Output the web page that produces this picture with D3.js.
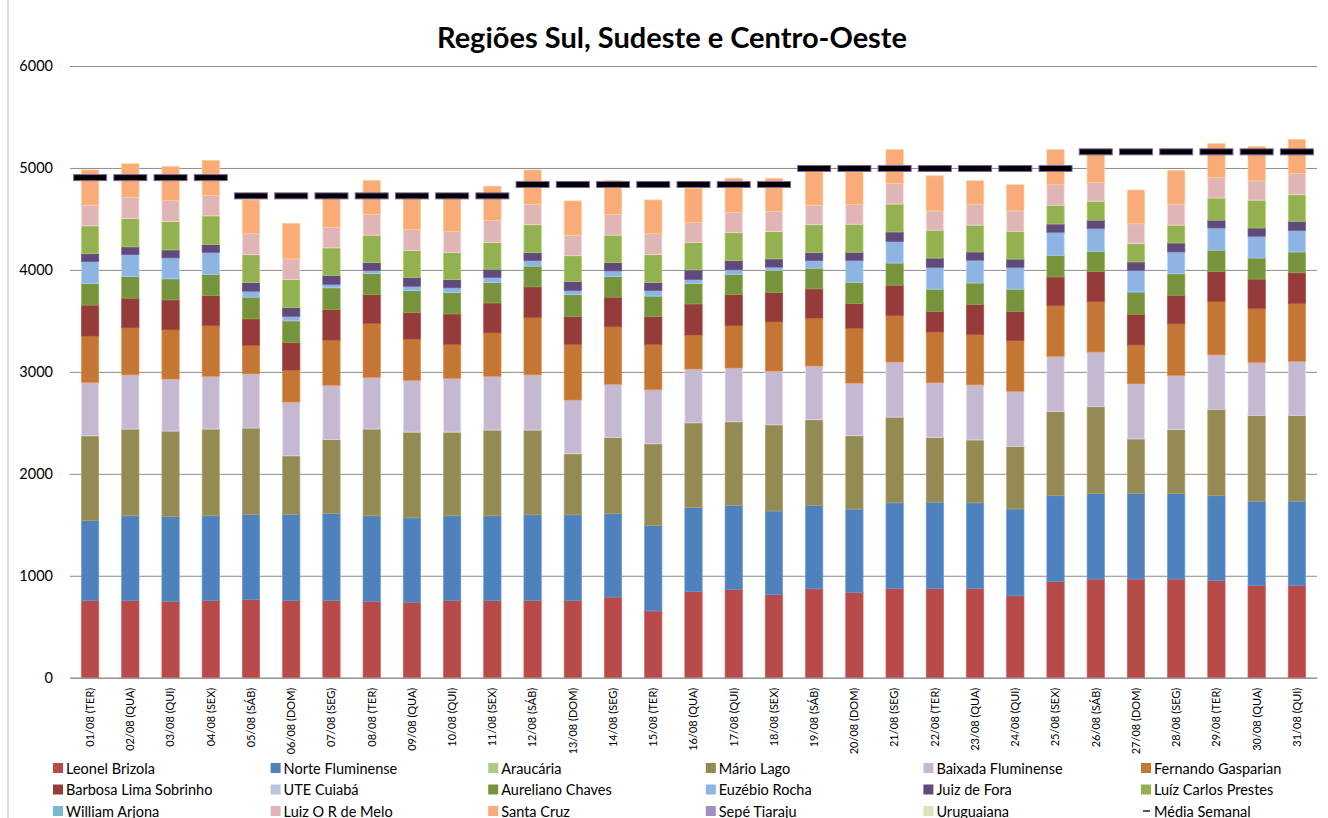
<!DOCTYPE html>
<html>
<head>
<meta charset="utf-8">
<script src="https://cdn.jsdelivr.net/npm/d3@7"></script>
<style>
  body { margin: 0; background: #fff; }
  svg { display: block; font-family: Lato, "Open Sans", sans-serif; }
</style>
</head>
<body>
<script>
const width = 1328, height = 818;

// categorias (dias de agosto)
const days = ["01/08 (TER)", "02/08 (QUA)", "03/08 (QUI)", "04/08 (SEX)", "05/08 (SÁB)", "06/08 (DOM)",
  "07/08 (SEG)", "08/08 (TER)", "09/08 (QUA)", "10/08 (QUI)", "11/08 (SEX)", "12/08 (SÁB)", "13/08 (DOM)",
  "14/08 (SEG)", "15/08 (TER)", "16/08 (QUA)", "17/08 (QUI)", "18/08 (SEX)", "19/08 (SÁB)", "20/08 (DOM)",
  "21/08 (SEG)", "22/08 (TER)", "23/08 (QUA)", "24/08 (QUI)", "25/08 (SEX)", "26/08 (SÁB)", "27/08 (DOM)",
  "28/08 (SEG)", "29/08 (TER)", "30/08 (QUA)", "31/08 (QUI)"];

// geração por usina (MW médio)
const leonelBrizola = [757,757,750,757,767,757,757,750,740,757,757,757,757,791,655,845,865,814,872,836,873,873,873,803,943,968,968,968,954,905,905];
const norteFluminense = [784,831,831,831,834,844,854,838,828,831,831,841,841,817,838,824,824,821,817,818,842,849,842,852,842,838,838,838,831,827,827];
const marioLago = [831,851,838,851,848,575,727,851,841,821,841,831,598,750,801,831,821,845,841,719,841,634,617,614,827,852,536,627,848,842,842];
const baixadaFluminense = [523,531,510,517,531,527,530,507,507,527,527,541,527,520,530,527,527,527,527,516,540,537,540,540,540,536,540,530,533,519,529];
const fernandoGasparian = [456,462,483,497,280,314,443,530,405,334,426,564,547,565,446,334,416,483,470,539,456,498,494,497,498,495,382,508,523,529,568];
const barbosaLima = [304,291,294,294,260,270,300,281,260,298,294,300,271,290,271,305,304,287,287,241,298,203,295,288,281,294,302,281,294,288,301];
const aurelianoChaves = [210,213,206,209,213,213,213,209,216,209,199,203,216,203,202,199,199,220,203,209,217,217,210,217,213,200,217,210,211,207,204];
const euzebioRocha = [216,213,206,216,58,44,34,27,41,47,51,54,40,54,54,40,44,30,74,215,211,214,224,214,225,224,211,214,217,213,210];
const juizDeFora = [78,77,78,78,84,88,88,78,88,81,81,78,88,81,78,95,91,81,78,80,94,91,81,81,81,81,84,88,77,81,91];
const luizCarlosPrestes = [273,277,277,280,274,273,270,270,263,264,263,274,254,270,274,270,274,267,274,275,274,274,263,273,185,186,179,175,217,273,260];
const luizORMelo = [203,210,206,200,206,203,203,203,206,209,213,202,202,203,206,196,199,199,192,193,203,189,207,200,200,182,196,207,200,190,210];
const santaCruz = [345,328,335,344,331,348,331,334,325,322,338,335,335,334,331,334,335,325,325,319,330,344,228,256,344,284,330,329,333,336,333];

// média semanal
const weekLengths = [4, 7, 7, 7, 6];
const weekMeans = [4905, 4726, 4838, 4995, 5158];

// séries na ordem da legenda (as sem valores aparecem só na legenda)
const series = [
  { name: "Leonel Brizola", color: "#b64b49", values: leonelBrizola },
  { name: "Norte Fluminense", color: "#4f81bd", values: norteFluminense },
  { name: "Araucária", color: "#adcb84", values: null },
  { name: "Mário Lago", color: "#948a54", values: marioLago },
  { name: "Baixada Fluminense", color: "#c4b9d1", values: baixadaFluminense },
  { name: "Fernando Gasparian", color: "#c47634", values: fernandoGasparian },
  { name: "Barbosa Lima Sobrinho", color: "#953b39", values: barbosaLima },
  { name: "UTE Cuiabá", color: "#b8c6e0", values: null },
  { name: "Aureliano Chaves", color: "#77933c", values: aurelianoChaves },
  { name: "Euzébio Rocha", color: "#8eb4e3", values: euzebioRocha },
  { name: "Juiz de Fora", color: "#604a7b", values: juizDeFora },
  { name: "Luíz Carlos Prestes", color: "#93b151", values: luizCarlosPrestes },
  { name: "William Arjona", color: "#76b9cf", values: null },
  { name: "Luiz O R de Melo", color: "#dfb6b5", values: luizORMelo },
  { name: "Santa Cruz", color: "#f9ab78", values: santaCruz },
  { name: "Sepé Tiaraju", color: "#a28fc2", values: null },
  { name: "Uruguaiana", color: "#d7e4bd", values: null }
];

const stacked = series.filter(s => s.values);
const table = days.map((d, i) => {
  const row = { day: d };
  stacked.forEach(s => row[s.name] = s.values[i]);
  return row;
});

const meanByDay = weekMeans.flatMap((m, w) => d3.range(weekLengths[w]).map(() => m));

const svg = d3.select("body").append("svg")
    .attr("width", width)
    .attr("height", height);

const x = d3.scaleBand()
    .domain(days)
    .range([70, 1317])
    .paddingInner(0.57)
    .paddingOuter(0.285);

const y = d3.scaleLinear()
    .domain([0, 6000])
    .range([677.7, 66]);

// borda do gráfico
svg.append("line")
    .attr("x1", 8).attr("x2", 8)
    .attr("y1", 0).attr("y2", height)
    .attr("stroke", "#bfbfbf");

svg.append("text")
    .attr("x", 672)
    .attr("y", 48)
    .attr("text-anchor", "middle")
    .attr("font-size", 29)
    .attr("font-weight", "bold")
    .text("Regiões Sul, Sudeste e Centro-Oeste");

// grade
svg.append("g")
    .attr("transform", "translate(70,0)")
    .call(d3.axisLeft(y).ticks(6).tickSize(-(1317 - 70)).tickFormat(""))
    .call(g => g.select(".domain").remove())
    .call(g => g.selectAll("line").attr("stroke", "#8c8c8c"));

svg.append("g")
    .attr("transform", "translate(70,0)")
    .call(d3.axisLeft(y).ticks(6).tickSize(0).tickPadding(17).tickFormat(d3.format("d")))
    .call(g => g.select(".domain").remove())
    .call(g => g.selectAll("text").attr("font-size", 14.5).attr("fill", "#000").attr("font-family", "Lato"));

const stack = d3.stack().keys(stacked.map(s => s.name));
const layers = stack(table);

svg.append("g")
    .selectAll("g")
    .data(layers)
    .join("g")
    .attr("fill", (d, i) => stacked[i].color)
    .attr("stroke", (d, i) => d3.color(stacked[i].color).brighter(0.5))
    .attr("stroke-width", 0.7)
    .selectAll("rect")
    .data(d => d)
    .join("rect")
    .attr("x", d => x(d.data.day))
    .attr("width", x.bandwidth())
    .attr("y", d => y(d[1]))
    .attr("height", d => y(d[0]) - y(d[1]));

// média semanal (marcadores tipo traço)
svg.append("g")
    .selectAll("rect")
    .data(days)
    .join("rect")
    .attr("x", d => x(d) + x.bandwidth() / 2 - 16.5)
    .attr("y", (d, i) => y(meanByDay[i]) - 3)
    .attr("width", 33)
    .attr("height", 6)
    .attr("fill", "#000")
    .attr("stroke", "#8064a2")
    .attr("stroke-width", 1);

svg.append("g")
    .attr("transform", `translate(0,${y(0)})`)
    .call(d3.axisBottom(x).tickSize(0))
    .call(g => g.select(".domain").attr("stroke", "#8c8c8c"))
    .call(g => g.selectAll("text")
        .attr("font-size", 11)
        .attr("font-family", "Lato")
        .attr("fill", "#000")
        .attr("transform", "rotate(-90)")
        .attr("text-anchor", "end")
        .attr("x", -10)
        .attr("y", 0)
        .attr("dy", "0.35em"));

// legenda
const legendItems = series.map(s => ({ name: s.name, color: s.color, type: "box" }))
    .concat([{ name: "Média Semanal", color: "#604a7b", type: "dash" }]);

const legend = svg.append("g")
    .selectAll("g")
    .data(legendItems)
    .join("g")
    .attr("transform", (d, i) => `translate(${53 + (i % 6) * 217.6},${763 + Math.floor(i / 6) * 21.5})`);

legend.filter(d => d.type === "box").append("rect")
    .attr("width", 10)
    .attr("height", 10)
    .attr("fill", d => d.color);

legend.filter(d => d.type === "dash").append("rect")
    .attr("x", 2)
    .attr("y", 4)
    .attr("width", 7)
    .attr("height", 2)
    .attr("fill", d => d.color);

legend.append("text")
    .attr("x", 13)
    .attr("y", 10.5)
    .attr("font-size", 14.5)
    .text(d => d.name);
</script>
</body>
</html>
